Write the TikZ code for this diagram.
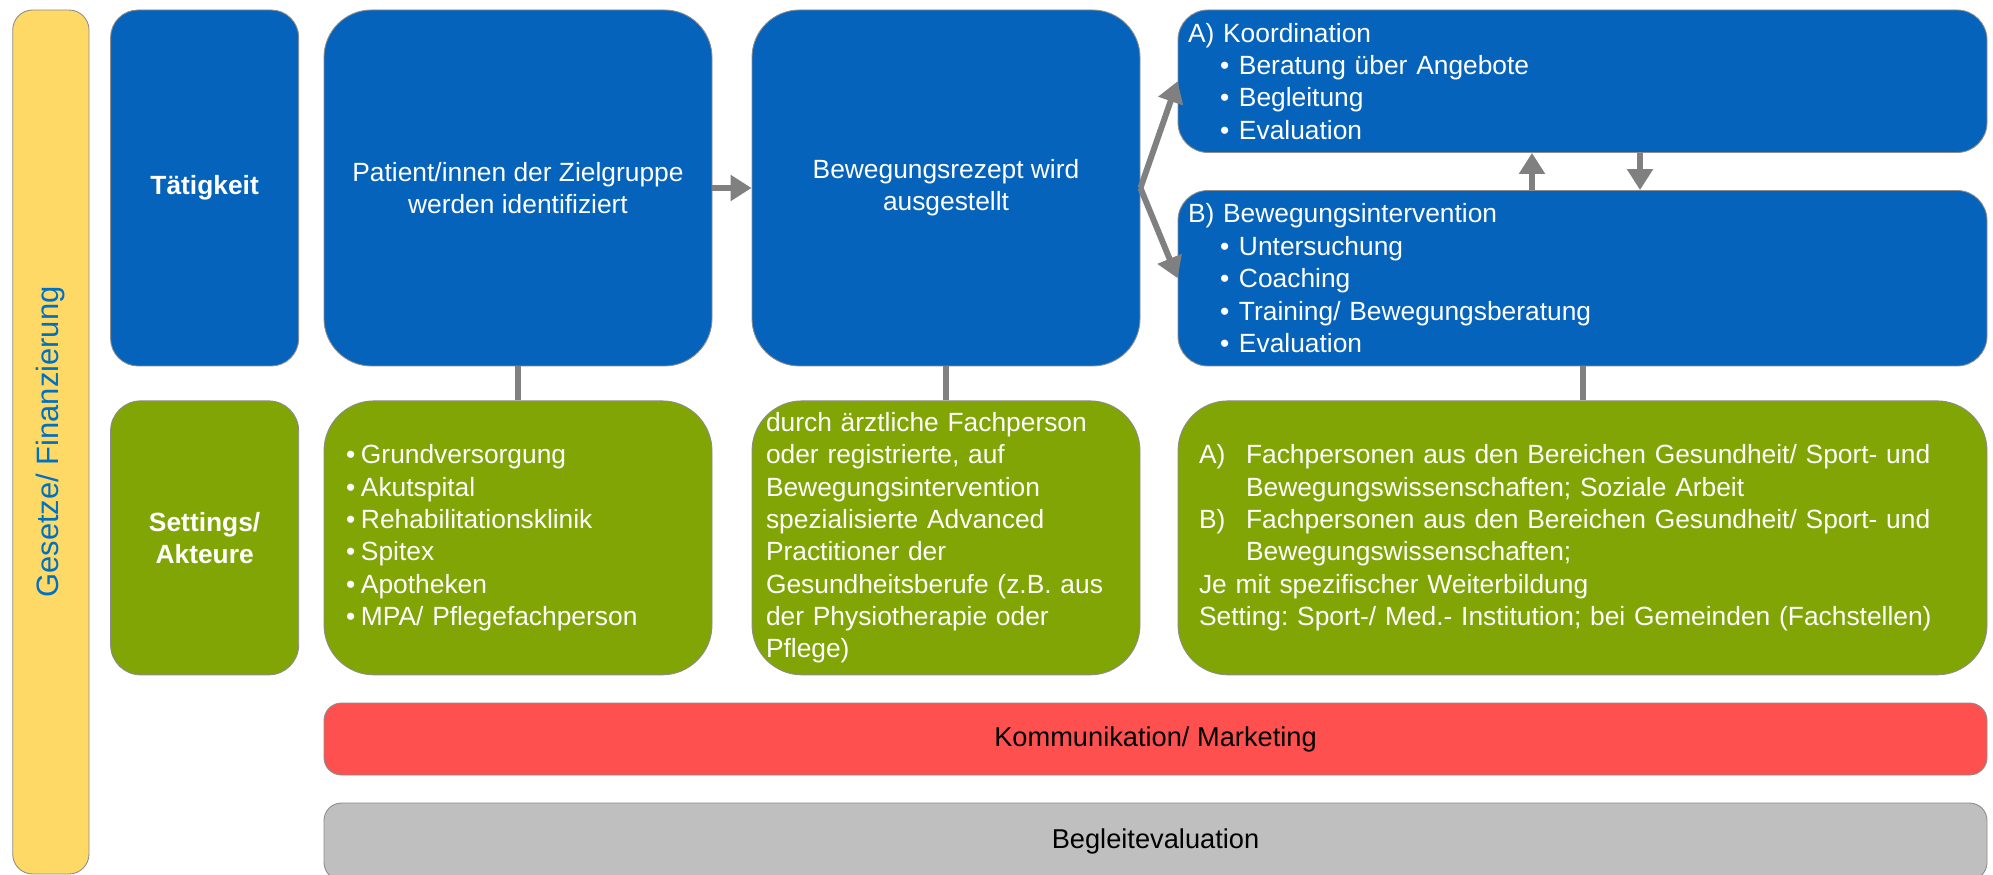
\documentclass[tikz,border=0pt]{standalone}
\usepackage{fontspec}
\setmainfont{Liberation Sans}
\usetikzlibrary{positioning,arrows.meta}
\frenchspacing
\newcommand{\boxfont}{\fontsize{15}{18.4}\selectfont}
\newcommand{\itm}[1]{\hspace*{0.64cm}\makebox[0.38cm][l]{\textbullet}#1}
\newcommand{\pkt}[1]{\makebox[0.3cm][l]{\textbullet}#1}
\newcommand{\fpkt}[2]{\makebox[0.94cm][l]{#1}#2}
\newcommand{\diagramdefinitions}{%
  % color of activity boxes
  \definecolor{colAct}{RGB}{5,99,187}
  % color of settings boxes
  \definecolor{colSet}{RGB}{128,165,5}
  % color of communication strip
  \definecolor{colKomm}{RGB}{255,80,80}
  % color of evaluation strip
  \definecolor{colEval}{RGB}{191,191,191}
  % color of law bar and its text
  \definecolor{colLaw}{RGB}{255,217,102}
  \definecolor{colLawText}{RGB}{0,112,192}
  % color of connectors and borders
  \definecolor{colArrow}{RGB}{128,128,128}
  \definecolor{colLine}{RGB}{140,140,140}

  % center coordinate of law bar
  \coordinate (oLaw) at (1.017,-8.84);
  % center coordinate of row header
  \coordinate (oTaet) at (4.093,-3.76);
  % center coordinate of patients
  \coordinate (oPat) at (10.36,-3.76);
  % center coordinate of prescription
  \coordinate (oRez) at (18.92,-3.76);
  % center coordinate of coordination
  \coordinate (oKoord) at (31.65,-1.625);
  % center coordinate of intervention
  \coordinate (oInterv) at (31.65,-5.565);
  % center coordinate of communication
  \coordinate (oKomm) at (23.11,-14.78);
  % center coordinate of evaluation
  \coordinate (oEval) at (23.11,-16.83);
  % x of the two arrows between A and B
  \coordinate (xUp) at (30.64,0);
  \coordinate (xDown) at (32.8,0);
}
\tikzset{
  box/.style={draw=colLine, line width=0.5pt, text=white, font=\boxfont, inner sep=0pt},
  headbox/.style={box, fill=colAct, rounded corners=0.55cm, minimum width=3.762cm,
    minimum height=7.12cm, align=center, font=\boxfont\bfseries},
  actbox/.style={box, fill=colAct, rounded corners=0.95cm, minimum width=7.76cm,
    minimum height=7.12cm, align=center},
  listbox/.style={box, fill=colAct, rounded corners=0.6cm, minimum width=16.18cm,
    text width=15.78cm, inner xsep=0.2cm, align=left},
  setbox/.style={box, fill=colSet, rounded corners=1.0cm, minimum height=5.48cm, align=left},
  stripbox/.style={box, text=black, rounded corners=0.35cm, minimum width=33.26cm,
    font=\fontsize{15.5}{18.6}\selectfont},
  link/.style={draw=colArrow, line width=3.4pt},
  flow/.style={link, -{Triangle[length=0.42cm,width=0.5cm]}},
}
\begin{document}
\begin{tikzpicture}

  % define colors and coordinates
  \diagramdefinitions
  \useasboundingbox (0,0) rectangle (39.86,-17.5);

  % law bar on the left
  \node[box, fill=colLaw, text=colLawText, rotate=90, rounded corners=0.4cm,
    minimum width=17.28cm, minimum height=1.526cm,
    font=\fontsize{17.6}{21}\selectfont] (gesetze) at (oLaw) {Gesetze/ Finanzierung};

  % first row: activities
  \node[headbox] (taet) at (oTaet) {Tätigkeit};
  \node[actbox] (patient) at (oPat) {Patient/innen der Zielgruppe\\werden identifiziert};
  \node[actbox] (rezept) at (oRez) {Bewegungsrezept wird\\ausgestellt};
  \node[listbox, minimum height=2.85cm] (koord) at (oKoord)
    {A) Koordination\\\itm{Beratung über Angebote}\\\itm{Begleitung}\\\itm{Evaluation}};
  \node[listbox, minimum height=3.51cm] (interv) at (oInterv)
    {B) Bewegungsintervention\\\itm{Untersuchung}\\\itm{Coaching}\\
     \itm{Training/ Bewegungsberatung}\\\itm{Evaluation}};

  % second row: settings and actors
  \node[headbox, fill=colSet, minimum height=5.48cm, rounded corners=0.6cm] (settings)
    [below=0.68cm of taet] {Settings/\\Akteure};
  \node[setbox, text width=6.88cm, inner xsep=0.44cm] (orte) [below=0.68cm of patient]
    {\pkt{Grundversorgung}\\\pkt{Akutspital}\\\pkt{Rehabilitationsklinik}\\
     \pkt{Spitex}\\\pkt{Apotheken}\\\pkt{MPA/ Pflegefachperson}};
  \node[setbox, text width=7.2cm, inner xsep=0.28cm] (fachperson) [below=0.68cm of rezept]
    {durch ärztliche Fachperson\\oder registrierte, auf\\Bewegungsintervention\\
     spezialisierte Advanced\\Practitioner der\\Gesundheitsberufe (z.B. aus\\
     der Physiotherapie oder\\Pflege)};
  \node[setbox, text width=15.34cm, inner xsep=0.42cm] (personal) [below=0.68cm of interv]
    {\fpkt{A)}{Fachpersonen aus den Bereichen Gesundheit/ Sport- und}\\
     \hspace*{0.94cm}Bewegungswissenschaften; Soziale Arbeit\\
     \fpkt{B)}{Fachpersonen aus den Bereichen Gesundheit/ Sport- und}\\
     \hspace*{0.94cm}Bewegungswissenschaften;\\
     Je mit spezifischer Weiterbildung\\
     Setting: Sport-/ Med.- Institution; bei Gemeinden (Fachstellen)};

  % strips at the bottom
  \node[stripbox, fill=colKomm, minimum height=1.44cm] (komm) at (oKomm) {Kommunikation/ Marketing};
  \node[stripbox, fill=colEval, minimum height=1.54cm] (eval) at (oEval) {Begleitevaluation};

  % arrows between activities
  \draw[flow] (patient) -- (rezept);
  \draw[flow] (rezept.east) -- (koord.west);
  \draw[flow] (rezept.east) -- (interv.west);
  \draw[flow] (interv.north -| xUp) -- (koord.south -| xUp);
  \draw[flow] (koord.south -| xDown) -- (interv.north -| xDown);

  % lines from activities to settings
  \draw[link] (patient) -- (orte);
  \draw[link] (rezept) -- (fachperson);
  \draw[link] (interv) -- (personal);

\end{tikzpicture}
\end{document}
